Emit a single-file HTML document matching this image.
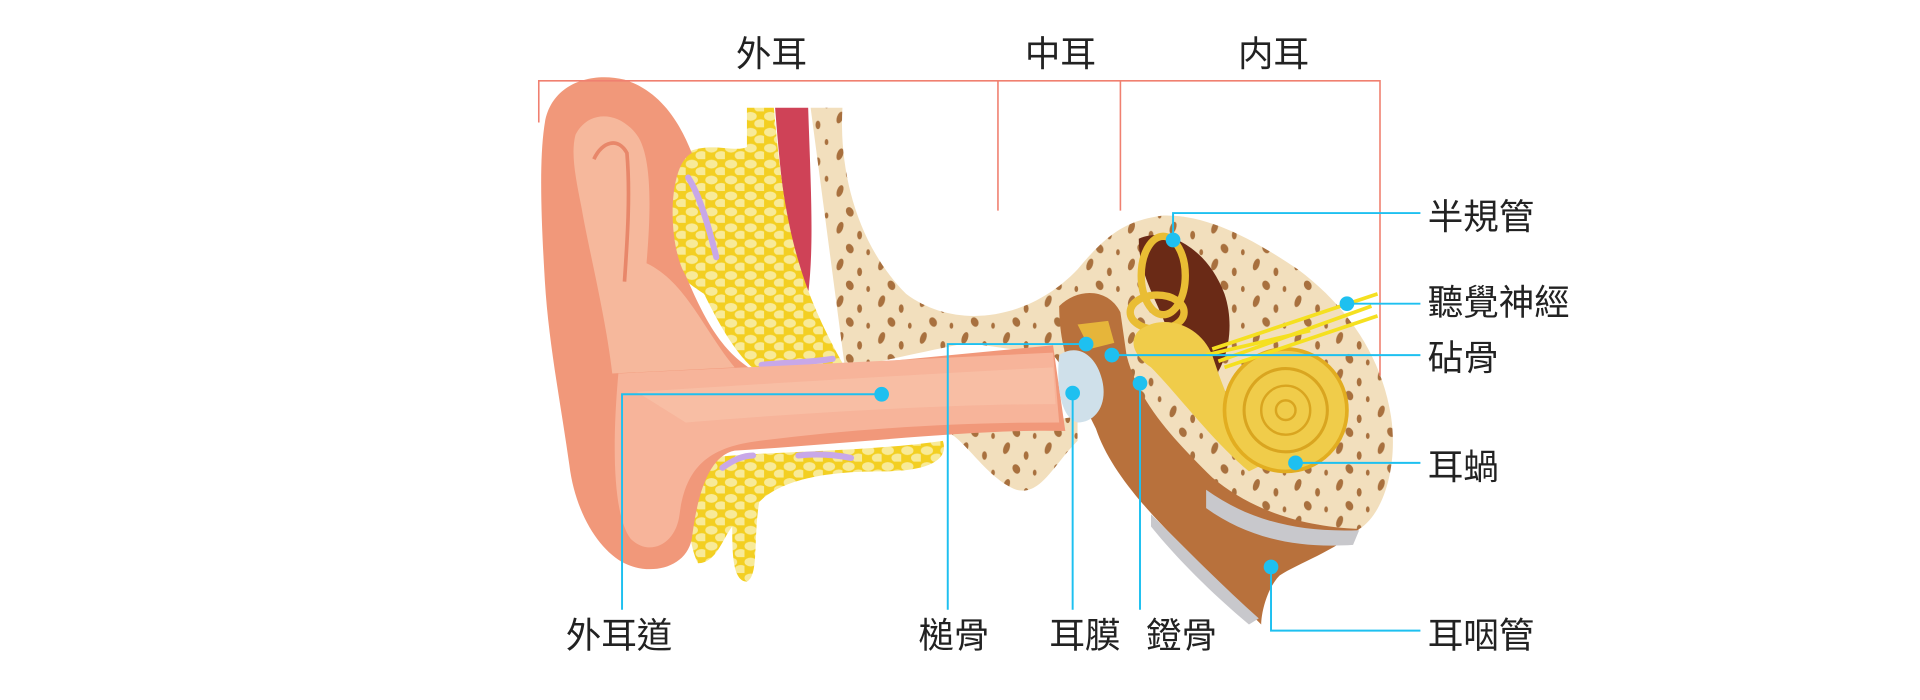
<!DOCTYPE html>
<html><head><meta charset="utf-8"><style>
html,body{margin:0;padding:0;background:#fff;width:1920px;height:700px;overflow:hidden}
svg{display:block}
text{font-family:"Liberation Sans","Noto Sans CJK TC",sans-serif;fill:#222}
</style></head><body>
<svg width="1920" height="700" viewBox="0 0 1568 571.67" preserveAspectRatio="none" xmlns="http://www.w3.org/2000/svg">
<defs>
<pattern id="sp" width="34" height="30" patternUnits="userSpaceOnUse">
<rect width="34" height="30" fill="#f2dfbd"/>
<ellipse cx="6" cy="6" rx="2.5" ry="5" fill="#a8703e" transform="rotate(20 6 6)"/>
<ellipse cx="22" cy="12" rx="2" ry="3.5" fill="#a8703e"/>
<ellipse cx="14" cy="23" rx="3" ry="4" fill="#a8703e" transform="rotate(-25 14 23)"/>
<ellipse cx="29" cy="26" rx="1.5" ry="2.5" fill="#a8703e"/>
</pattern>
<pattern id="ft" width="16" height="13" patternUnits="userSpaceOnUse">
<rect width="16" height="13" fill="#f3cf22"/>
<ellipse cx="5" cy="4" rx="5" ry="3.6" fill="#f8ea98"/>
<ellipse cx="13" cy="10" rx="5" ry="3.6" fill="#f8ea98"/>
</pattern>
</defs>
<!-- bone upper -->
<path d="M662,88 L688,88 C685,140 700,200 740,240 C780,270 840,262 880,220 C905,190 920,180 950,176 C990,175 1030,200 1060,220 C1100,250 1128,290 1136,340 C1142,380 1130,420 1110,432 C1080,445 1030,440 990,420 C960,400 930,380 900,350 C880,330 870,300 860,290 L790,280 C740,290 700,300 690,300 Z" fill="url(#sp)"/>
<!-- bone lower -->
<path d="M770,350 C790,360 805,390 830,400 C850,405 860,380 880,360 L880,340 C850,345 800,348 770,350 Z" fill="url(#sp)"/>
<!-- red muscle -->
<path d="M633,88 L660,88 C662,150 665,200 660,240 C648,220 640,180 633,88Z" fill="#cf4257"/>
<!-- yellow fat upper -->
<path d="M610,88 L632,88 C640,180 650,230 690,300 L620,305 C600,290 585,260 575,240 C560,230 545,220 545,195 C545,170 540,140 560,125 C580,115 600,125 610,120 Z" fill="url(#ft)"/>
<!-- yellow fat lower -->
<path d="M570,375 C620,368 700,370 770,360 C775,375 760,385 720,385 C680,385 640,390 620,410 C615,440 620,470 610,475 C598,475 598,450 598,430 C590,440 585,460 570,460 C560,440 560,400 570,375Z" fill="url(#ft)"/>
<g stroke="#c8a8e8" stroke-width="5" fill="none" stroke-linecap="round">
<path d="M562,145 C572,160 580,190 585,210"/><path d="M622,298 C640,296 665,296 680,293"/><path d="M652,372 C670,370 685,372 695,374"/><path d="M590,382 C598,376 606,372 615,372"/>
</g>
<!-- outer ear -->
<path d="M445,100 C450,70 480,58 510,65 C540,75 555,100 565,125 C545,135 545,200 560,225 C575,260 590,290 620,305 L860,282 L870,352 C800,350 700,362 600,368 C580,372 570,400 565,440 C560,465 530,470 510,460 C490,450 470,420 465,380 C458,330 448,280 445,230 C442,180 440,130 445,100Z" fill="#f1987a"/>
<path d="M470,110 C480,90 505,90 520,110 C535,130 530,190 528,215 C560,230 575,270 600,300 L500,305 C495,260 480,200 475,170 C470,145 466,125 470,110Z" fill="#f6b89c"/>
<path d="M505,305 L860,288 L865,345 C780,345 700,350 620,360 C580,365 560,380 555,420 C552,445 530,455 515,440 C500,420 500,360 505,305Z" fill="#f7b49a"/>
<path d="M520,320 C600,315 760,305 860,300 L862,330 C760,330 620,340 560,345Z" fill="#f9c4ac" opacity=".6"/>
<path d="M485,130 C492,115 505,112 512,125 C515,160 512,200 510,230" fill="none" stroke="#e8876a" stroke-width="3"/>
<!-- middle ear cavity -->
<path d="M865,250 C880,235 905,235 915,255 L920,290 C930,330 960,360 990,390 C1020,415 1060,430 1110,432 C1090,450 1060,460 1045,470 C1035,480 1030,500 1030,510 C1010,490 990,470 960,440 C930,410 905,380 895,350 C880,320 865,290 865,250Z" fill="#b8713c"/>
<path d="M985,400 C1020,425 1060,435 1110,433 L1105,445 C1060,448 1020,440 985,415Z" fill="#c8c8cc"/>
<path d="M940,420 C970,450 1000,480 1028,505 L1020,510 C990,485 960,455 940,430Z" fill="#c8c8cc"/>
<!-- eardrum -->
<path d="M865,290 C880,280 895,290 900,310 C905,330 895,345 880,345 C868,342 862,320 865,290Z" fill="#cfe0ea"/>
<path d="M880,265 L905,262 L910,280 L890,285Z" fill="#e6b53a"/>
<!-- inner ear labyrinth -->
<path d="M930,195 C950,185 985,200 1000,240 C1010,270 1000,300 990,310 L960,290 C950,250 930,230 930,195Z" fill="#6a2a16"/>
<g fill="none" stroke="#e9bd34" stroke-width="6">
<ellipse cx="950" cy="225" rx="18" ry="32"/>
<ellipse cx="945" cy="255" rx="22" ry="14"/>
</g>
<path d="M930,270 C950,255 980,265 990,290 C1000,320 1010,350 1040,375 L1020,385 C990,360 960,320 940,300 C925,290 922,278 930,270Z" fill="#f0cc4a"/>
<circle cx="1050" cy="335" r="50" fill="#f0cc4a" stroke="#e2ad20" stroke-width="3"/>
<circle cx="1050" cy="335" r="34" fill="none" stroke="#d9a520" stroke-width="2.5"/>
<circle cx="1050" cy="335" r="20" fill="none" stroke="#d9a520" stroke-width="2"/>
<circle cx="1050" cy="335" r="8" fill="none" stroke="#d9a520" stroke-width="2"/>
<g stroke="#f5e020" stroke-width="3" fill="none">
<path d="M990,285 L1125,240"/><path d="M995,295 L1120,250"/><path d="M1000,300 L1125,258"/><path d="M985,290 L1070,270"/>
</g>
<!-- red bracket -->
<g stroke="#f08070" stroke-width="1.3" fill="none">
<path d="M440,100 L440,66 L1127,66 L1127,307"/>
<path d="M815,66 L815,172"/><path d="M915,66 L915,172"/>
</g>
<!-- blue connectors -->
<g stroke="#1ec0f0" stroke-width="1.6" fill="none">
<path d="M958,196 L958,174 L1160,174"/>
<path d="M1100,248 L1160,248"/>
<path d="M908,290 L1160,290"/>
<path d="M1058,378 L1160,378"/>
<path d="M1038,463 L1038,515 L1160,515"/>
<path d="M887,281 L774,281 L774,498"/>
<path d="M876,321 L876,498"/>
<path d="M931,313 L931,498"/>
<path d="M720,322 L508,322 L508,498"/>
</g>
<g fill="#1ec0f0">
<circle cx="958" cy="196" r="6"/><circle cx="1100" cy="248" r="6"/><circle cx="908" cy="290" r="6"/><circle cx="1058" cy="378" r="6"/><circle cx="1038" cy="463" r="6"/><circle cx="887" cy="281" r="6"/><circle cx="876" cy="321" r="6"/><circle cx="931" cy="313" r="6"/><circle cx="720" cy="322" r="6"/>
</g>
<g font-size="29">
<text x="630" y="54" text-anchor="middle">外耳</text>
<text x="866" y="54" text-anchor="middle">中耳</text>
<text x="1040" y="54" text-anchor="middle">内耳</text>
<text x="1166" y="187">半規管</text>
<text x="1166" y="257">聽覺神經</text>
<text x="1166" y="302">砧骨</text>
<text x="1166" y="391">耳蝸</text>
<text x="1166" y="529">耳咽管</text>
<text x="462" y="529">外耳道</text>
<text x="750" y="529">槌骨</text>
<text x="857" y="529">耳膜</text>
<text x="936" y="529">鐙骨</text>
</g>
</svg>
</body></html>
